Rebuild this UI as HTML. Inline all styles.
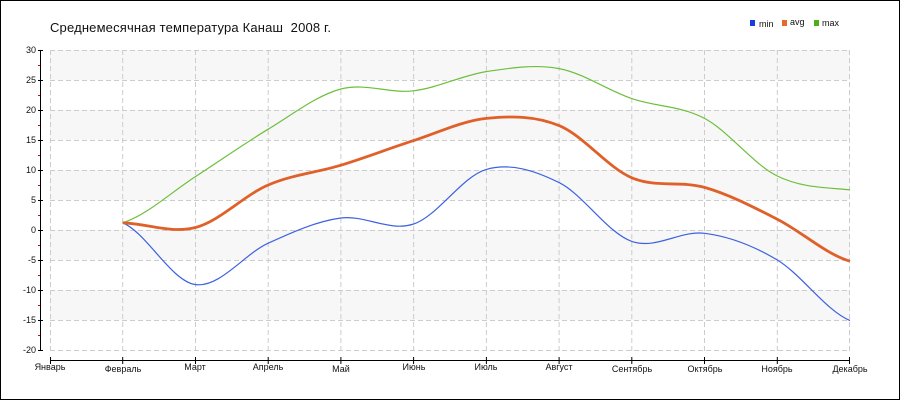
<!DOCTYPE html>
<html><head><meta charset="utf-8"><style>
html,body{margin:0;padding:0;background:#fff}
svg{display:block}
text{font-family:"Liberation Sans","DejaVu Sans",sans-serif;fill:#111}
</style></head><body>
<svg width="900" height="400" viewBox="0 0 900 400" xmlns="http://www.w3.org/2000/svg">
<rect x="0.5" y="0.5" width="899" height="399" fill="#fff" stroke="#000" stroke-width="1"/>
<text x="50" y="32" font-size="13" textLength="281" fill="#222">Среднемесячная температура Канаш&#160; 2008 г.</text>
<!-- legend -->
<rect x="750" y="20" width="5" height="6" fill="#1a3de0"/>
<text x="759" y="27" font-size="9">min</text>
<rect x="782" y="20" width="5" height="6" fill="#e8682e"/>
<text x="790" y="25" font-size="9">avg</text>
<rect x="814" y="20" width="5" height="6" fill="#4caf1a"/>
<text x="822" y="26" font-size="9">max</text>
<!-- bands -->
<g fill="#f7f7f7">
<rect x="50" y="50" width="800" height="30"/>
<rect x="50" y="110" width="800" height="30"/>
<rect x="50" y="170" width="800" height="30"/>
<rect x="50" y="230" width="800" height="30"/>
<rect x="50" y="290" width="800" height="30"/>
</g>
<!-- grid -->
<g stroke="#cccccc" stroke-width="1" stroke-dasharray="5,3" fill="none">
<path d="M50,50.5H850M50,80.5H850M50,110.5H850M50,140.5H850M50,170.5H850M50,200.5H850M50,230.5H850M50,260.5H850M50,290.5H850M50,320.5H850M50,350.5H850"/>
<path d="M50.5,50V351M122.7,50V351M195.5,50V351M268.2,50V351M340.9,50V351M413.6,50V351M486.4,50V351M559.1,50V351M631.8,50V351M704.5,50V351M777.3,50V351M849.5,50V351"/>
</g>
<!-- y axis -->
<g stroke="#000" stroke-width="1">
<line x1="40.5" y1="50" x2="40.5" y2="351"/>
<path d="M38,50.5H43M38,80.5H43M38,110.5H43M38,140.5H43M38,170.5H43M38,200.5H43M38,230.5H43M38,260.5H43M38,290.5H43M38,320.5H43M38,350.5H43"/>
</g>
<path stroke="#d00" stroke-width="1" d="M38,65.5H40M38,95.5H40M38,125.5H40M38,155.5H40M38,185.5H40M38,215.5H40M38,245.5H40M38,275.5H40M38,305.5H40M38,335.5H40"/>
<g font-size="9" text-anchor="end">
<text x="36" y="53">30</text>
<text x="36" y="83">25</text>
<text x="36" y="113">20</text>
<text x="36" y="143">15</text>
<text x="36" y="173">10</text>
<text x="36" y="203">5</text>
<text x="36" y="233">0</text>
<text x="36" y="263">-5</text>
<text x="36" y="293">-10</text>
<text x="36" y="323">-15</text>
<text x="36" y="353">-20</text>
</g>
<!-- x axis -->
<g stroke="#000" stroke-width="1">
<line x1="50" y1="360.5" x2="850" y2="360.5"/>
<path d="M50.5,357V364M122.7,357V364M195.5,357V364M268.2,357V364M340.9,357V364M413.6,357V364M486.4,357V364M559.1,357V364M631.8,357V364M704.5,357V364M777.3,357V364M849.5,357V364"/>
</g>
<g font-size="9" text-anchor="middle">
<text x="50" y="370">Январь</text>
<text x="123" y="372">Февраль</text>
<text x="195" y="370">Март</text>
<text x="268" y="370">Апрель</text>
<text x="341" y="372">Май</text>
<text x="414" y="370">Июнь</text>
<text x="486" y="370">Июль</text>
<text x="559" y="370">Август</text>
<text x="632" y="372">Сентябрь</text>
<text x="705" y="372">Октябрь</text>
<text x="777" y="372">Ноябрь</text>
<text x="850" y="372">Декабрь</text>
</g>
<!-- series -->
<path fill="none" stroke="#6cbf3c" stroke-width="1.2" d="M122.73,222.8 C146.97,215.1 171.21,192.2 195.45,176.6 C219.7,161.0 243.94,143.8 268.18,129.2 C292.42,114.6 316.67,95.4 340.91,89.0 C365.15,82.6 389.39,93.7 413.64,90.8 C437.88,87.9 462.12,75.3 486.36,71.6 C510.61,67.9 534.85,64.1 559.09,68.6 C583.33,73.1 607.58,90.3 631.82,98.6 C656.06,106.9 680.3,105.5 704.55,118.4 C728.79,131.3 753.03,164.1 777.27,176.0 C801.52,187.9 825.76,187.5 850,189.8"/>
<path fill="none" stroke="#3d62e0" stroke-width="1.2" d="M122.73,222.8 C146.97,233.1 171.21,281.2 195.45,284.6 C219.7,288.0 243.94,254.3 268.18,243.2 C292.42,232.1 316.67,221.2 340.91,218.0 C365.15,214.8 389.39,232.1 413.64,224.0 C437.88,215.9 462.12,176.3 486.36,169.4 C510.61,162.5 534.85,170.6 559.09,182.6 C583.33,194.6 607.58,232.95 631.82,241.4 C656.06,249.85 680.3,230.2 704.55,233.3 C728.79,236.4 753.03,245.45 777.27,260.0 C801.52,274.55 825.76,310.5 850,320.6"/>
<path fill="none" stroke="#e0602a" stroke-width="2.8" d="M122.73,222.8 C146.97,223.6 171.21,233.8 195.45,227.5 C219.7,221.2 243.94,195.4 268.18,185.0 C292.42,174.6 316.67,172.6 340.91,165.2 C365.15,157.8 389.39,148.4 413.64,140.6 C437.88,132.8 462.12,120.9 486.36,118.4 C510.61,115.9 534.85,115.7 559.09,125.6 C583.33,135.5 607.58,167.5 631.82,177.8 C656.06,188.1 680.3,180.5 704.55,187.4 C728.79,194.3 753.03,206.9 777.27,219.2 C801.52,231.5 825.76,254.2 850,261.2"/>
</svg>
</body></html>
